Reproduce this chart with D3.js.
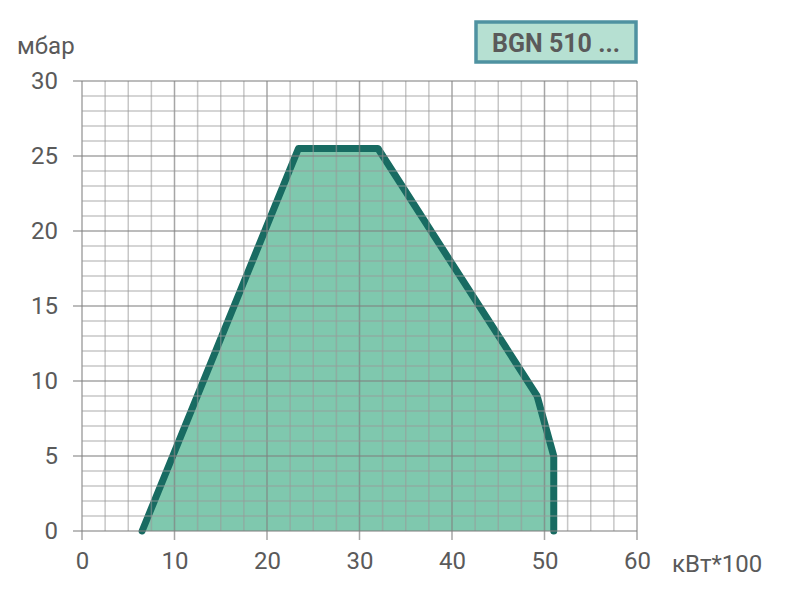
<!DOCTYPE html>
<html><head><meta charset="utf-8">
<script src="https://cdn.jsdelivr.net/npm/d3@7"></script>
<style>body{margin:0;background:#fff}svg text{font-family:Roboto,"DejaVu Sans",sans-serif}</style>
</head><body><svg id="c" width="788" height="600"></svg>
<script>
const xTicks = [0,10,20,30,40,50,60];
const yTicks = [0,5,10,15,20,25,30];
const outlineX = [6.5, 23.4, 32.0, 49.2, 51.0, 51.0];
const outlineY = [0, 25.5, 25.5, 9.0, 5.0, 0];
const xLabel = "кВт*100", yLabel = "мбар", title = "BGN 510 ...";

const svg = d3.select("#c");
const x = d3.scaleLinear().domain([0,60]).range([82,637]);
const y = d3.scaleLinear().domain([0,30]).range([531,81]);
const pts = outlineX.map((v,i)=>[v, outlineY[i]]);

svg.append("path").attr("d", d3.line().x(d=>x(d[0])).y(d=>y(d[1]))(pts.concat([[outlineX[0],0]])))
  .attr("fill","#7fc8ae").attr("stroke","none");
svg.append("path").attr("d", d3.line().x(d=>x(d[0])).y(d=>y(d[1]))(pts))
  .attr("fill","none").attr("stroke","#186b62").attr("stroke-width",7)
  .attr("stroke-linecap","round").attr("stroke-linejoin","round");

const g = svg.append("g");
d3.range(0,60.01,2.5).forEach(v=>{
  const major = v%10===0;
  g.append("line").attr("x1",x(v)).attr("x2",x(v)).attr("y1",y(30)).attr("y2",major?y(0)+9:y(0))
    .attr("stroke",major?"#808080":"#999").attr("stroke-opacity",major?0.7:0.55).attr("stroke-width",1.5);
});
d3.range(0,30.01,1).forEach(v=>{
  const major = v%5===0;
  g.append("line").attr("y1",y(v)).attr("y2",y(v)).attr("x1",major?x(0)-9:x(0)).attr("x2",x(60))
    .attr("stroke",major?"#808080":"#999").attr("stroke-opacity",major?0.7:0.55).attr("stroke-width",1.5);
});

const xa = svg.append("g").attr("transform",`translate(0,${y(0)})`)
  .call(d3.axisBottom(x).tickValues(xTicks).tickSize(0).tickPadding(21));
xa.select(".domain").remove();
xa.selectAll("text").attr("font-size",24).attr("fill","#5a5a5a").attr("font-weight",400);
const ya = svg.append("g").attr("transform",`translate(${x(0)},0)`)
  .call(d3.axisLeft(y).tickValues(yTicks).tickSize(0).tickPadding(24));
ya.select(".domain").remove();
ya.selectAll("text").attr("font-size",24).attr("fill","#5a5a5a").attr("font-weight",400);

svg.append("text").attr("x",672).attr("y",572).attr("font-size",24).attr("fill","#5a5a5a").text(xLabel);
svg.append("text").attr("x",17).attr("y",54).attr("font-size",24).attr("fill","#5a5a5a").text(yLabel);

svg.append("rect").attr("x",476).attr("y",22).attr("width",160).attr("height",40)
  .attr("fill","#b6e0d2").attr("stroke","#4f92a1").attr("stroke-width",3.5);
svg.append("text").attr("x",556).attr("y",52).attr("text-anchor","middle").attr("font-size",25)
  .attr("font-weight",700).attr("fill","#5a5a5a").text(title);
</script></body></html>
